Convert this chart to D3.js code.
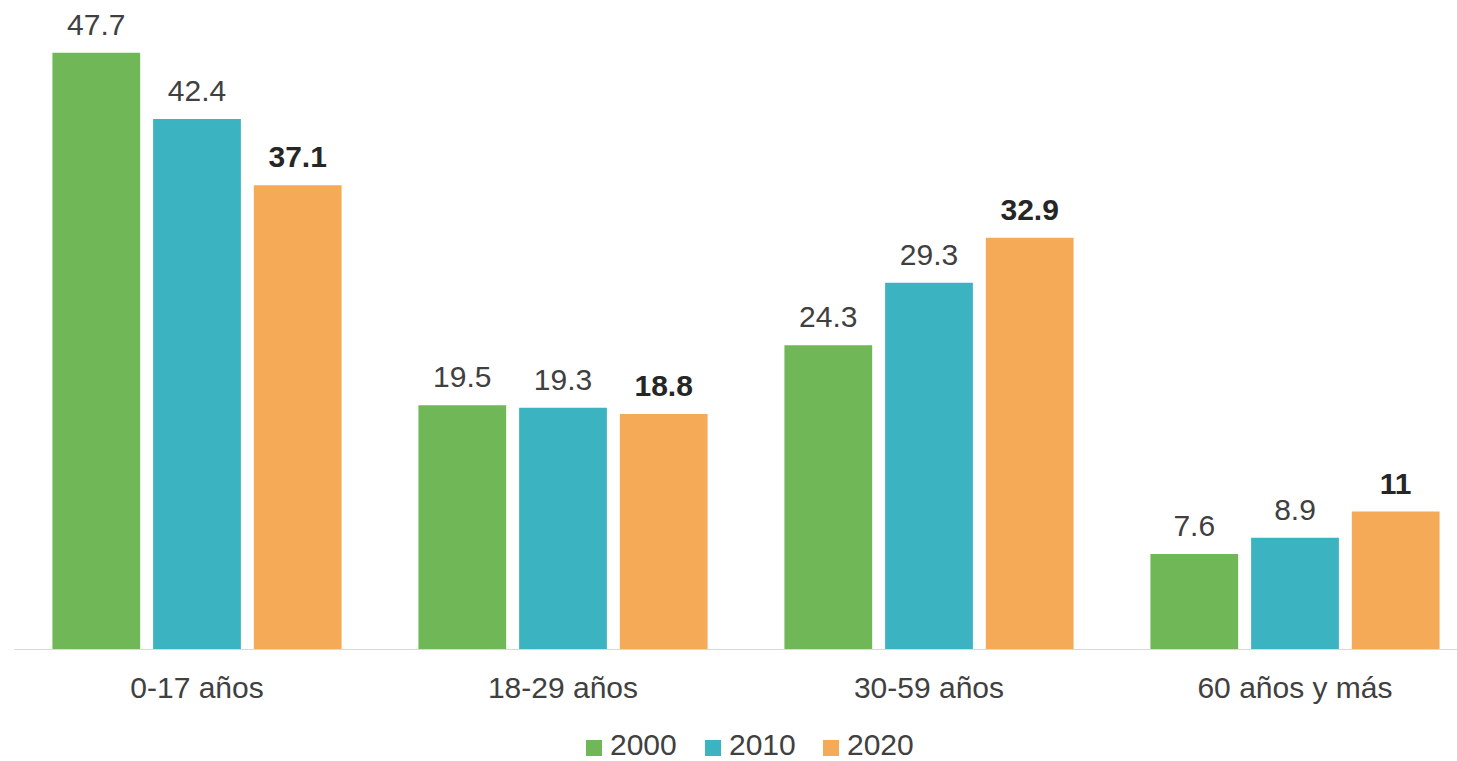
<!DOCTYPE html>
<html><head><meta charset="utf-8">
<script src="https://cdn.jsdelivr.net/npm/d3@7"></script>
<style>html,body{margin:0;padding:0;background:#fff;}svg{display:block;}</style>
</head><body><svg id="c" width="1457" height="761"></svg>
<script>
const categories = ["0-17 años", "18-29 años", "30-59 años", "60 años y más"];
const years = ["2000", "2010", "2020"];
const values2000 = [47.7, 19.5, 24.3, 7.6];
const values2010 = [42.4, 19.3, 29.3, 8.9];
const values2020 = [37.1, 18.8, 32.9, 11];
const colors = ["#70b857", "#3bb3c1", "#f5aa57"];
const boldSeries = [false, false, true];

const series = [values2000, values2010, values2020];
const svg = d3.select("#c");
const font = "'Liberation Sans', Arial, sans-serif";

const x0 = d3.scaleBand().domain(categories).range([14, 14 + 4 * 366]).paddingInner(0.21).paddingOuter(0.105);
const x1 = d3.scaleBand().domain(years).range([0, x0.bandwidth()]).paddingInner(0.1287).paddingOuter(0);
const y = d3.scaleLinear().domain([0, 50]).range([649, 24]);

// axis line
svg.append("line").attr("x1", 14).attr("x2", 1457).attr("y1", 649.5).attr("y2", 649.5)
  .attr("stroke", "#d9d9d9").attr("stroke-width", 1.2);

const g = svg.append("g");
categories.forEach((c, ci) => {
  years.forEach((yr, si) => {
    const v = series[si][ci];
    const bx = x0(c) + x1(yr);
    g.append("rect").attr("x", bx).attr("y", y(v)).attr("width", x1.bandwidth())
      .attr("height", y(0) - y(v)).attr("fill", colors[si]);
    g.append("text").attr("x", bx + x1.bandwidth() / 2).attr("y", y(v) - 18)
      .attr("text-anchor", "middle").attr("font-family", font).attr("font-size", 30)
      .attr("font-weight", boldSeries[si] ? "bold" : "normal")
      .attr("fill", boldSeries[si] ? "#262626" : "#404040")
      .text(String(v));
  });
  svg.append("text").attr("x", x0(c) + x0.bandwidth() / 2).attr("y", 698)
    .attr("text-anchor", "middle").attr("font-family", font).attr("font-size", 30)
    .attr("fill", "#404040").text(c);
});

// legend
const lg = svg.append("g");
const legendX = [586, 705, 823];
years.forEach((yr, i) => {
  lg.append("rect").attr("x", legendX[i]).attr("y", 740).attr("width", 16).attr("height", 16).attr("fill", colors[i]);
  lg.append("text").attr("x", legendX[i] + 24).attr("y", 754.5).attr("font-family", font)
    .attr("font-size", 30).attr("fill", "#404040").text(yr);
});
</script></body></html>
